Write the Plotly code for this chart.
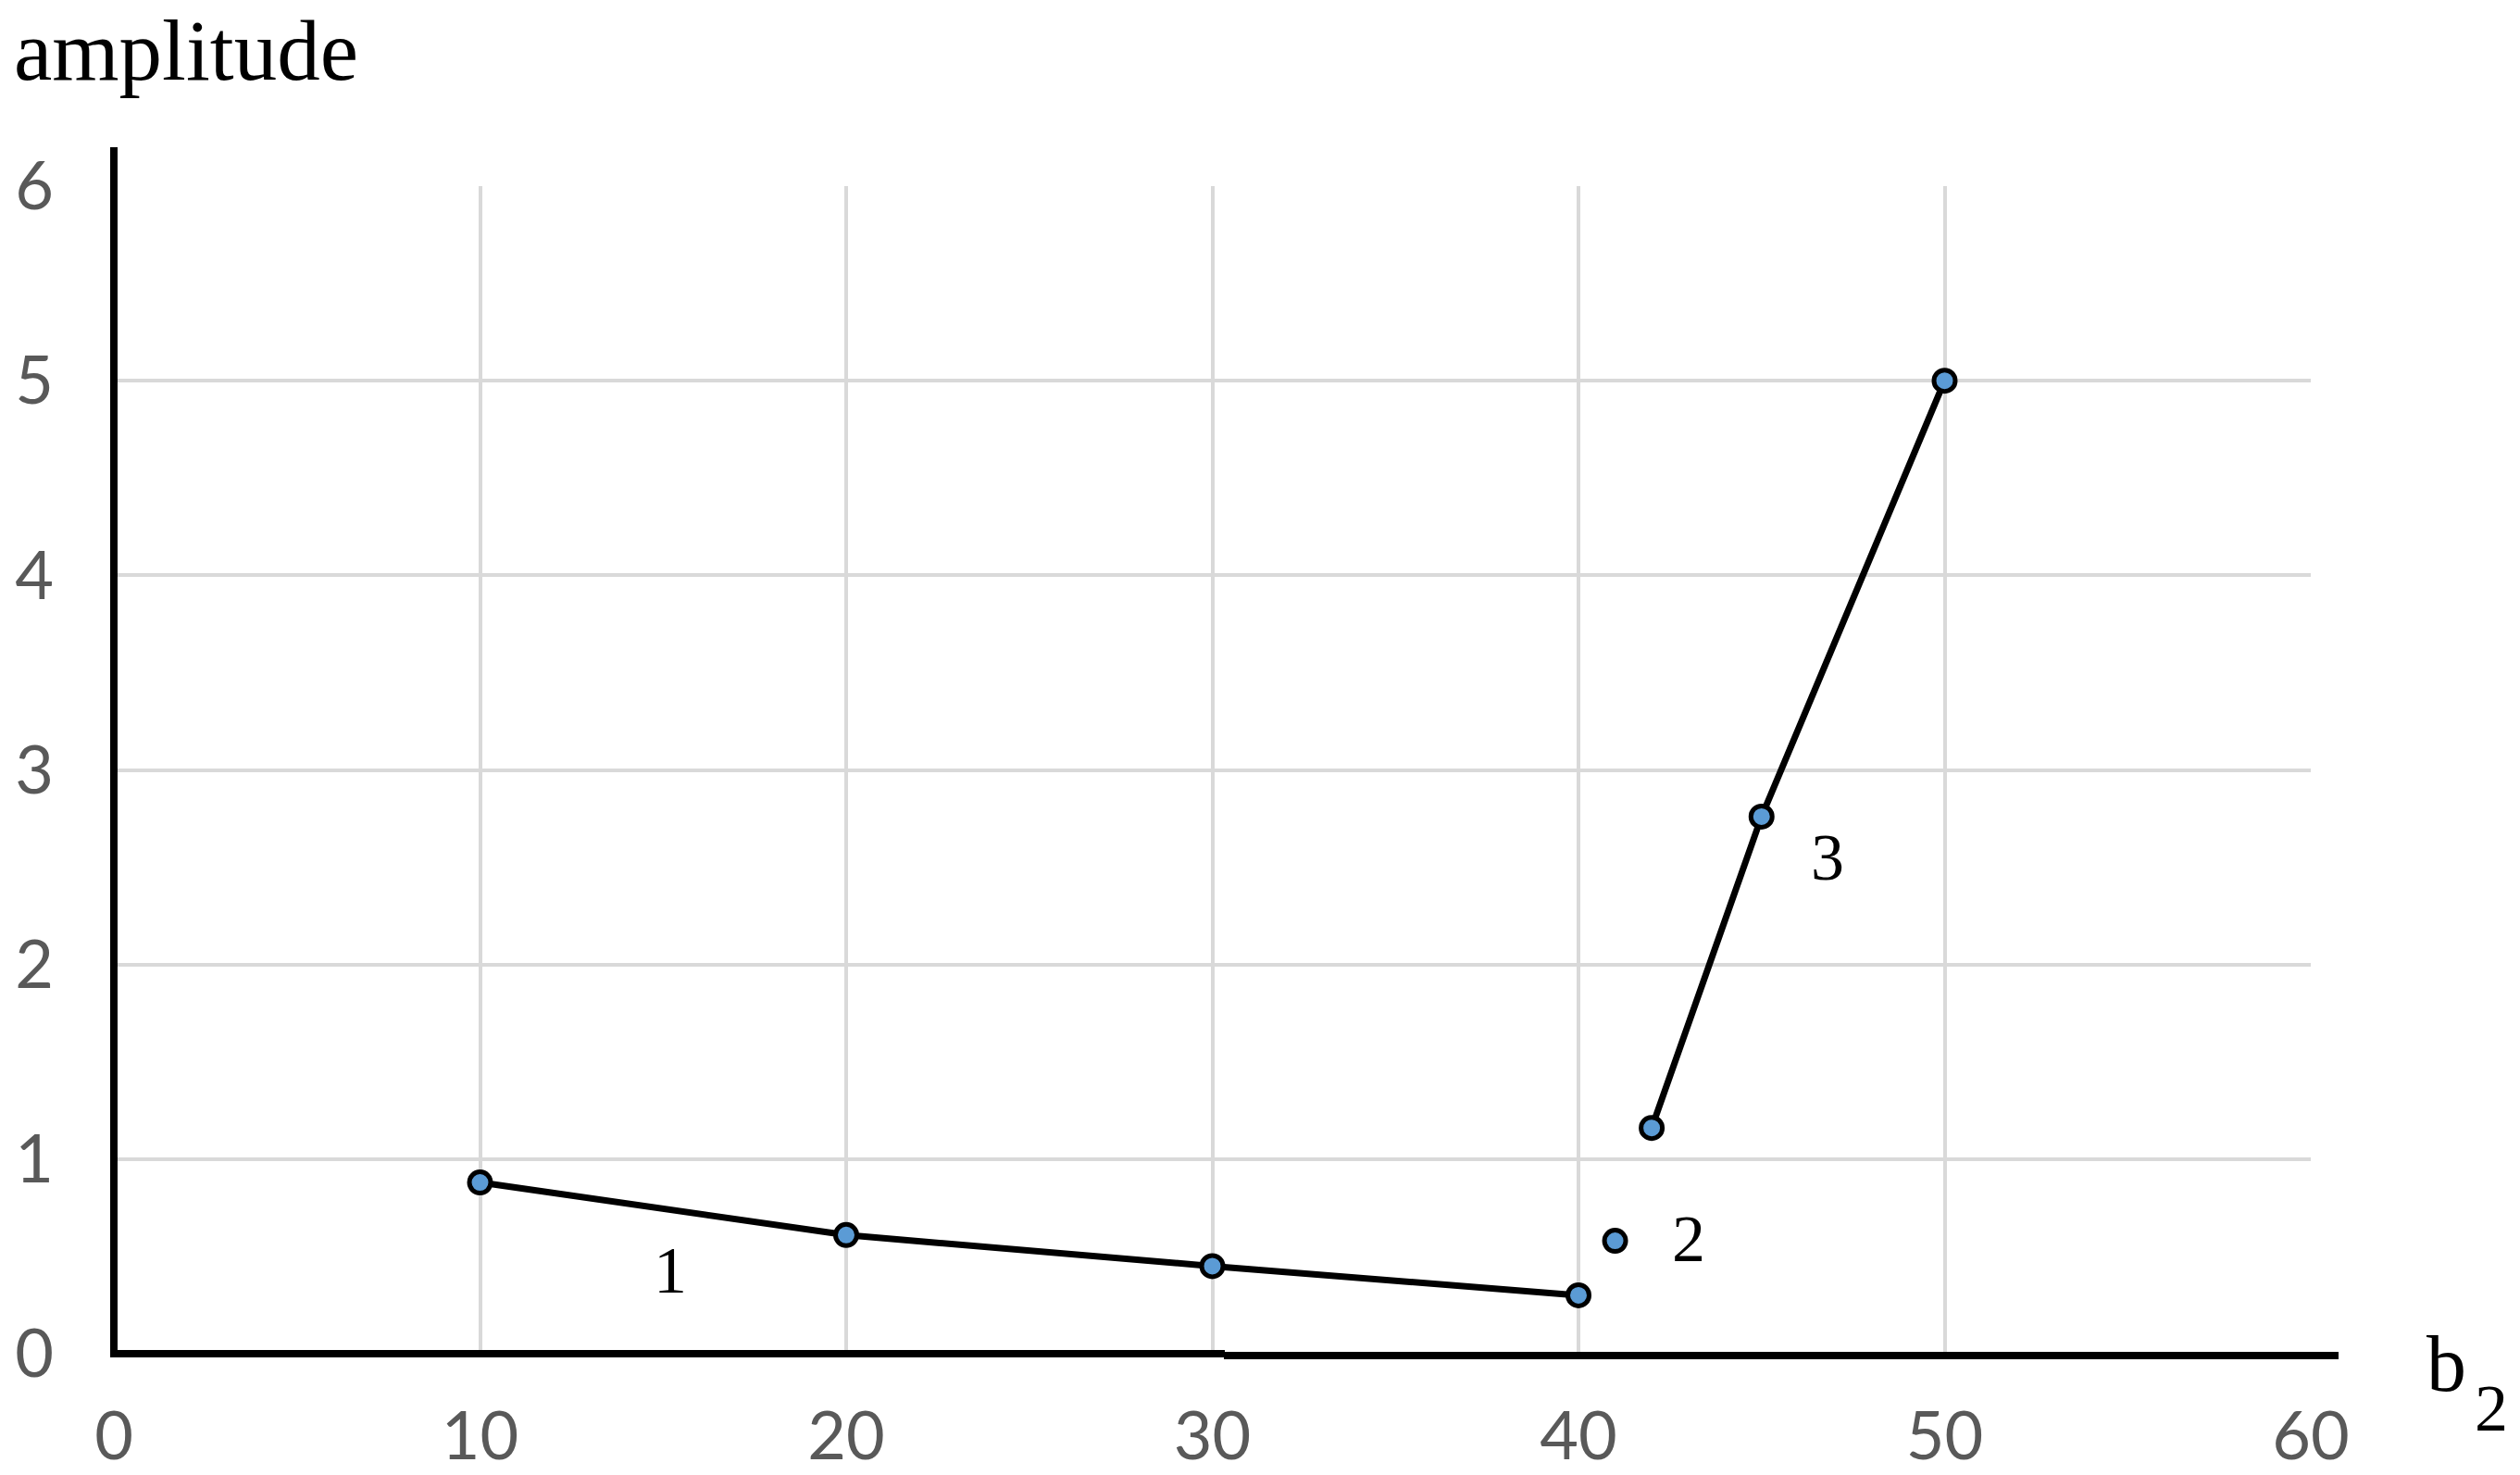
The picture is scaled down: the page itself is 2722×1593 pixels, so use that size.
import plotly.graph_objects as go

# ---- data ----
b2_curve1 = [10, 20, 30, 40]
amp_curve1 = [0.88, 0.61, 0.45, 0.30]
b2_curve2 = [41]
amp_curve2 = [0.58]
b2_curve3 = [42, 45, 50]
amp_curve3 = [1.16, 2.76, 5.0]

curve_labels = ["1", "2", "3"]
label_x = [15.2, 43.0, 46.8]
label_y = [0.43, 0.59, 2.55]

x_ticks = [0, 10, 20, 30, 40, 50, 60]
y_ticks = [0, 1, 2, 3, 4, 5, 6]

# ---- layout geometry (page pixels; body margin removed via post_script) ----
W, H = 2722, 1593
PLOT_L, PLOT_R, PLOT_T, PLOT_B = 123, 2496, 201, 1462
ML, MT = PLOT_L, PLOT_T
MR, MB = W - PLOT_R, H - PLOT_B
PW, PH = PLOT_R - PLOT_L, PLOT_B - PLOT_T

def px_x(p):
    return (p - PLOT_L) / PW

def px_y(p):
    return (PLOT_B - p) / PH

line_style = dict(color="black", width=7)
marker_style = dict(size=23, color="#5B9BD5", line=dict(color="black", width=5))

fig = go.Figure()
for xs, ys, mode in [(b2_curve1, amp_curve1, "lines+markers"),
                     (b2_curve2, amp_curve2, "markers"),
                     (b2_curve3, amp_curve3, "lines+markers")]:
    fig.add_trace(go.Scatter(x=xs, y=ys, mode=mode, line=line_style,
                             marker=marker_style, showlegend=False))

tick_font = dict(family="Lato", size=72, color="#595959")
fig.update_xaxes(range=[0, 60], tickvals=x_ticks, showgrid=True,
                 gridcolor="#D9D9D9", gridwidth=4, zeroline=False,
                 showline=False, ticks="", tickfont=tick_font,
                 ticklabelstandoff=41)
fig.update_yaxes(range=[0, 6], tickvals=y_ticks, showgrid=True,
                 gridcolor="#D9D9D9", gridwidth=4, zeroline=False,
                 showline=False, ticks="", tickfont=tick_font,
                 ticklabelstandoff=64)

# axis lines (paper-referenced so they are not clipped; extend past the plot area)
axis_line = dict(color="black", width=8)
fig.add_shape(type="line", xref="paper", yref="paper", x0=0, x1=0,
              y0=px_y(PLOT_B + 4), y1=px_y(159), line=axis_line)
fig.add_shape(type="line", xref="paper", yref="paper", x0=px_x(PLOT_L - 4),
              x1=px_x(1323), y0=0, y1=0, line=axis_line)
fig.add_shape(type="line", xref="paper", yref="paper", x0=px_x(1322),
              x1=px_x(2526), y0=px_y(PLOT_B + 2), y1=px_y(PLOT_B + 2), line=axis_line)

serif = "Liberation Serif"
annotations = [
    dict(text="amplitude", xref="paper", yref="paper", x=px_x(13), y=px_y(55),
         xanchor="left", yanchor="middle", showarrow=False,
         font=dict(family=serif, size=93, color="black")),
    dict(text="b", xref="paper", yref="paper", x=px_x(2619), y=px_y(1473),
         xanchor="left", yanchor="middle", showarrow=False,
         font=dict(family=serif, size=86, color="black")),
    dict(text="2", xref="paper", yref="paper", x=px_x(2671), y=px_y(1521),
         xanchor="left", yanchor="middle", showarrow=False,
         font=dict(family=serif, size=72, color="black")),
]
for t, lx, ly in zip(curve_labels, label_x, label_y):
    annotations.append(dict(text=t, x=lx, y=ly, xref="x", yref="y",
                            xanchor="center", yanchor="middle", showarrow=False,
                            font=dict(family=serif, size=72, color="black")))

fig.update_layout(width=W, height=H,
                  margin=dict(l=ML, r=MR, t=MT, b=MB, autoexpand=False),
                  plot_bgcolor="white", paper_bgcolor="white",
                  annotations=annotations)

fig.write_html("out.html",
               config={"displayModeBar": False},
               post_script="document.body.style.margin='0';"
                           "document.body.style.overflow='hidden';")
